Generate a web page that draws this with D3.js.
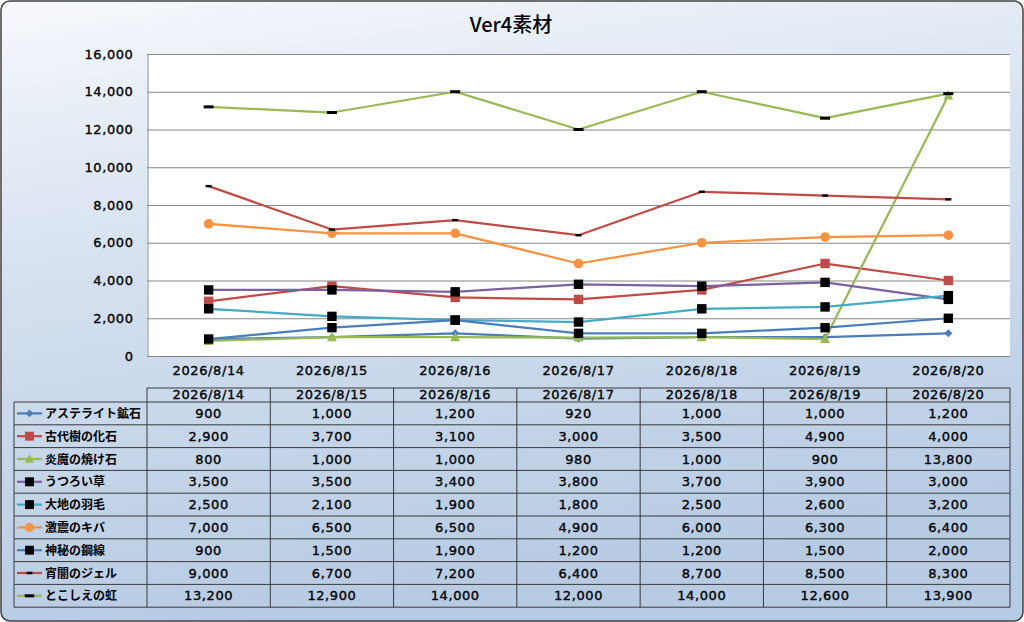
<!DOCTYPE html>
<html>
<head>
<meta charset="utf-8">
<script src="https://cdn.jsdelivr.net/npm/d3@7"></script>
<style>
  html, body { margin: 0; padding: 0; background: #ffffff; }
  svg { display: block; }
  text { font-family: "DejaVu Sans", sans-serif; }
  .num { font-size: 13px; letter-spacing: 0.6px; stroke: #000; stroke-width: 0.35px; fill: #000; }
  .jp { font-family: "Noto Sans CJK JP", sans-serif; }
</style>
</head>
<body>
<svg id="chart" width="1024" height="622"></svg>
<script>
// chart values
let dates = ["2026/8/14", "2026/8/15", "2026/8/16", "2026/8/17", "2026/8/18", "2026/8/19", "2026/8/20"];
let seriesNames = ["アステライト鉱石", "古代樹の化石", "炎魔の焼け石", "うつろい草", "大地の羽毛",
                   "激震のキバ", "神秘の鋼線", "宵闇のジェル", "とこしえの虹"];
let asteraite = [900, 1000, 1200, 920, 1000, 1000, 1200];
let kodaiju   = [2900, 3700, 3100, 3000, 3500, 4900, 4000];
let enma      = [800, 1000, 1000, 980, 1000, 900, 13800];
let utsuroi   = [3500, 3500, 3400, 3800, 3700, 3900, 3000];
let daichi    = [2500, 2100, 1900, 1800, 2500, 2600, 3200];
let gekishin  = [7000, 6500, 6500, 4900, 6000, 6300, 6400];
let shinpi    = [900, 1500, 1900, 1200, 1200, 1500, 2000];
let yoiyami   = [9000, 6700, 7200, 6400, 8700, 8500, 8300];
let tokoshie  = [13200, 12900, 14000, 12000, 14000, 12600, 13900];
let yTicks = [0, 2000, 4000, 6000, 8000, 10000, 12000, 14000, 16000];

let allValues = [asteraite, kodaiju, enma, utsuroi, daichi, gekishin, shinpi, yoiyami, tokoshie];

// look of each series (Excel 2007 palette)
let lineColors = ["#4a7ebb", "#be4b48", "#98b954", "#7d60a0", "#46aac5", "#f69240", "#4a7ebb", "#be4b48", "#98b954"];
let markerKinds = ["diamond", "square", "triangle", "bsquare", "bsquare", "circle", "bsquare", "dash", "bigdash"];

let svg = d3.select("#chart");
let W = 1024, H = 622;

let plot = {left: 147, right: 1010, top: 54, bottom: 356};
let table = {left: 14, colStart: 147, right: 1010, headTop: 388, rowTop: 402, rowH: 22.8};

// background gradient
let defs = svg.append("defs");
let grad = defs.append("linearGradient")
    .attr("id", "bg")
    .attr("x1", "0").attr("y1", "0")
    .attr("x2", "0.25").attr("y2", "1");
grad.append("stop").attr("offset", "0%").attr("stop-color", "#f6f8fc");
grad.append("stop").attr("offset", "45%").attr("stop-color", "#d4e0ef");
grad.append("stop").attr("offset", "100%").attr("stop-color", "#b7cbe3");

svg.append("rect")
    .attr("x", 1).attr("y", 1)
    .attr("width", W - 2).attr("height", H - 2)
    .attr("rx", 9).attr("ry", 9)
    .attr("fill", "url(#bg)")
    .attr("stroke", "#404040")
    .attr("stroke-width", 1.5);

// title
svg.append("text")
    .attr("class", "jp")
    .attr("x", 511).attr("y", 32)
    .attr("text-anchor", "middle")
    .style("font-size", "20px")
    .style("font-weight", "500")
    .attr("fill", "#000")
    .text("Ver4素材");

// scales
let x = d3.scaleBand().domain(dates).range([plot.left, plot.right]);
let y = d3.scaleLinear().domain([0, 16000]).range([plot.bottom, plot.top]);

// plot area
svg.append("rect")
    .attr("x", plot.left).attr("y", plot.top)
    .attr("width", plot.right - plot.left).attr("height", plot.bottom - plot.top)
    .attr("fill", "#ffffff");

// gridlines
svg.append("g")
    .selectAll("line")
    .data(yTicks.filter(d => d > 0))
    .enter()
    .append("line")
    .attr("x1", plot.left).attr("x2", plot.right)
    .attr("y1", d => y(d) + 0.5).attr("y2", d => y(d) + 0.5)
    .attr("stroke", "#868686")
    .attr("stroke-width", 1);

// y axis
let yAxis = svg.append("g")
    .attr("transform", `translate(${plot.left + 0.5},0)`)
    .call(d3.axisLeft(y).tickValues(yTicks).tickSize(0).tickPadding(14).tickFormat(d3.format(",")));
yAxis.select(".domain").attr("stroke", "#868686");
yAxis.selectAll("text").attr("class", "num").attr("fill", null);

// x axis
let xAxis = svg.append("g")
    .attr("transform", `translate(0,${plot.bottom + 0.5})`)
    .call(d3.axisBottom(x).tickSize(0).tickPadding(9));
xAxis.select(".domain").attr("stroke", "#868686").attr("d", `M${plot.left},0H${plot.right}`);
xAxis.selectAll("text").attr("class", "num").attr("fill", null);

// markers
function drawMarker(g, kind, color, cx, cy, scale) {
    let s = scale || 1;
    if (kind === "diamond") {
        let r = 4 * s;
        g.append("path")
            .attr("d", `M${cx},${cy - r}L${cx + r},${cy}L${cx},${cy + r}L${cx - r},${cy}Z`)
            .attr("fill", color);
    } else if (kind === "square") {
        let r = 4.7 * s;
        g.append("rect").attr("x", cx - r).attr("y", cy - r)
            .attr("width", 2 * r).attr("height", 2 * r).attr("fill", color);
    } else if (kind === "triangle") {
        let r = 5 * s;
        g.append("path")
            .attr("d", `M${cx},${cy - r}L${cx + r},${cy + r * 0.8}L${cx - r},${cy + r * 0.8}Z`)
            .attr("fill", color);
    } else if (kind === "bsquare") {
        let r = 4.7 * s;
        g.append("rect").attr("x", cx - r).attr("y", cy - r)
            .attr("width", 2 * r).attr("height", 2 * r).attr("fill", "#000");
    } else if (kind === "circle") {
        g.append("circle").attr("cx", cx).attr("cy", cy).attr("r", 4.8 * s).attr("fill", color);
    } else if (kind === "dash") {
        g.append("rect").attr("x", cx - 3 * s).attr("y", cy - 1.2)
            .attr("width", 6 * s).attr("height", 2.4).attr("fill", "#000");
    } else if (kind === "bigdash") {
        g.append("rect").attr("x", cx - 5 * s).attr("y", cy - 1.5)
            .attr("width", 10 * s).attr("height", 3).attr("fill", "#000");
    }
}

let line = d3.line()
    .x((d, i) => x(dates[i]) + x.bandwidth() / 2)
    .y(d => y(d));

let seriesG = svg.append("g");
allValues.forEach(function (vals, si) {
    let g = seriesG.append("g");
    g.append("path")
        .datum(vals)
        .attr("d", line)
        .attr("fill", "none")
        .attr("stroke", lineColors[si])
        .attr("stroke-width", 2.25)
        .attr("stroke-linejoin", "round");
    vals.forEach(function (v, i) {
        drawMarker(g, markerKinds[si], lineColors[si], x(dates[i]) + x.bandwidth() / 2, y(v));
    });
});

// data table
let tg = svg.append("g");
let tableBottom = table.rowTop + table.rowH * seriesNames.length;
let gridColor = "#3a3a3a";

// header row (only over the date columns)
tg.append("line")
    .attr("x1", table.colStart).attr("x2", table.right)
    .attr("y1", table.headTop).attr("y2", table.headTop)
    .attr("stroke", gridColor);
// horizontal row lines
d3.range(seriesNames.length + 1).forEach(function (i) {
    let yy = table.rowTop + i * table.rowH;
    tg.append("line")
        .attr("x1", table.left).attr("x2", table.right)
        .attr("y1", yy).attr("y2", yy)
        .attr("stroke", gridColor);
});
// vertical lines
tg.append("line")
    .attr("x1", table.left).attr("x2", table.left)
    .attr("y1", table.rowTop).attr("y2", tableBottom)
    .attr("stroke", gridColor);
dates.forEach(function (d, i) {
    let xx = x(d);
    tg.append("line")
        .attr("x1", xx).attr("x2", xx)
        .attr("y1", table.headTop).attr("y2", tableBottom)
        .attr("stroke", gridColor);
});
tg.append("line")
    .attr("x1", table.right).attr("x2", table.right)
    .attr("y1", table.headTop).attr("y2", tableBottom)
    .attr("stroke", gridColor);

// header labels
tg.selectAll(".head")
    .data(dates)
    .enter()
    .append("text")
    .attr("class", "num")
    .attr("x", d => x(d) + x.bandwidth() / 2)
    .attr("y", table.headTop + 11)
    .attr("text-anchor", "middle")
    .text(d => d);

// rows
let fmt = d3.format(",");
seriesNames.forEach(function (name, si) {
    let cy = table.rowTop + si * table.rowH + table.rowH / 2;
    // legend key
    tg.append("line")
        .attr("x1", 17).attr("x2", 42)
        .attr("y1", cy).attr("y2", cy)
        .attr("stroke", lineColors[si])
        .attr("stroke-width", 2.25);
    drawMarker(tg, markerKinds[si], lineColors[si], 29.5, cy, 0.95);
    tg.append("text")
        .attr("class", "jp")
        .attr("x", 45).attr("y", cy + 4.5)
        .style("font-size", "12px")
        .style("font-weight", "bold")
        .attr("fill", "#000")
        .text(name);
    allValues[si].forEach(function (v, i) {
        tg.append("text")
            .attr("class", "num")
            .attr("x", x(dates[i]) + x.bandwidth() / 2)
            .attr("y", cy + 4.5)
            .attr("text-anchor", "middle")
            .text(fmt(v));
    });
});
</script>
</body>
</html>
